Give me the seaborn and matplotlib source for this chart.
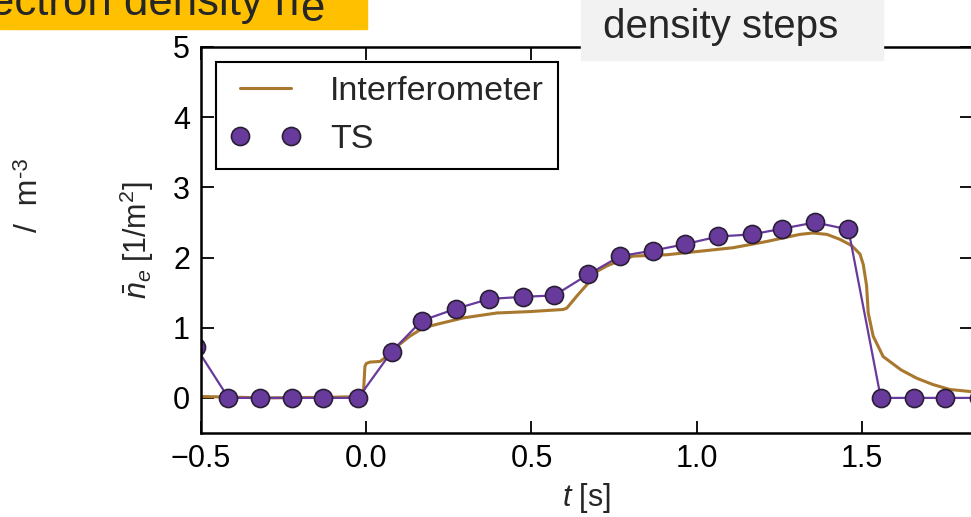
import matplotlib
matplotlib.use("Agg")
import matplotlib.pyplot as plt
import matplotlib.patches as mpatches
import numpy as np
import pandas as pd
import seaborn as sns

# Line-integrated density from the interferometer
interf_t = [-0.50, -0.30, -0.10, -0.009, -0.004, 0.000, 0.011, 0.042, 0.062, 0.092,
            0.132, 0.173, 0.223, 0.294, 0.395, 0.495, 0.596, 0.607, 0.637, 0.667,
            0.697, 0.728, 0.748, 0.807, 0.910, 1.010, 1.110, 1.213, 1.312, 1.352,
            1.394, 1.433, 1.469, 1.494, 1.504, 1.514, 1.519, 1.534, 1.564, 1.618,
            1.666, 1.715, 1.766, 1.830, 1.850]
interf_ne = [0.02, 0.00, 0.01, 0.02, 0.45, 0.49, 0.51, 0.52, 0.59, 0.73,
             0.88, 1.00, 1.06, 1.14, 1.21, 1.23, 1.26, 1.28, 1.45, 1.61,
             1.80, 1.88, 1.92, 2.02, 2.04, 2.09, 2.14, 2.23, 2.33, 2.35,
             2.33, 2.26, 2.17, 2.05, 1.90, 1.60, 1.21, 0.88, 0.59, 0.40,
             0.28, 0.19, 0.12, 0.09, 0.08]

# Thomson scattering samples
ts_t = [-0.515, -0.417, -0.321, -0.226, -0.130, -0.024, 0.077, 0.168, 0.271, 0.372,
        0.473, 0.569, 0.672, 0.768, 0.869, 0.964, 1.065, 1.168, 1.257, 1.358,
        1.459, 1.557, 1.658, 1.751, 1.853]
ts_ne = [0.72, 0.0, 0.0, 0.0, 0.0, 0.0, 0.66, 1.10, 1.27, 1.41,
         1.44, 1.46, 1.76, 2.02, 2.10, 2.19, 2.30, 2.33, 2.41, 2.50,
         2.40, 0.0, 0.0, 0.0, 0.0]

x_ticks = [-0.5, 0.0, 0.5, 1.0, 1.5]
y_ticks = [0, 1, 2, 3, 4, 5]

interf = pd.DataFrame({"t": interf_t, "ne": interf_ne})
ts = pd.DataFrame({"t": ts_t, "ne": ts_ne})

sns.set_style("ticks")
plt.rcParams["font.family"] = ["Liberation Sans", "DejaVu Sans"]
plt.rcParams["mathtext.fontset"] = "custom"
plt.rcParams["mathtext.rm"] = "Liberation Sans"
plt.rcParams["mathtext.it"] = "Liberation Sans:italic"

BROWN = "#A8782E"
PURPLE = "#683A9C"

fig = plt.figure(figsize=(9.71, 5.17), dpi=100)
ax = fig.add_axes([201 / 971, 84 / 517, 771 / 971, 386 / 517])

sns.lineplot(data=interf, x="t", y="ne", ax=ax, color=BROWN, lw=2.2,
             label="Interferometer", estimator=None, sort=False)
sns.lineplot(data=ts, x="t", y="ne", ax=ax, color=PURPLE, lw=1.6,
             estimator=None, sort=False, legend=False)
sns.lineplot(data=ts, x="t", y="ne", ax=ax, color=PURPLE, lw=0, marker="o",
             markersize=13, markeredgecolor="#2A1E35", markeredgewidth=1.2,
             label="TS", estimator=None, sort=False)

ax.set_xlim(-0.5, 1.833)
ax.set_ylim(-0.5, 5)
ax.set_xticks(x_ticks)
ax.set_yticks(y_ticks)
ax.set_xticklabels(["\u22120.5", "0.0", "0.5", "1.0", "1.5"])
ax.set_yticklabels([str(v) for v in y_ticks])
ax.tick_params(direction="in", length=9, width=1.3, labelsize=22, pad=8,
               top=True, right=True, colors="black")
for s in ax.spines.values():
    s.set_visible(True)
    s.set_linewidth(1.8)
    s.set_color("black")

ax.set_xlabel(r"$t$ [s]", fontsize=22, labelpad=5)
ax.set_ylabel(r"$\bar{n}_e\;[1/\mathrm{m}^2]$", fontsize=22, labelpad=12)

leg = ax.legend(loc="upper left", fontsize=24.5, frameon=True, fancybox=False,
                numpoints=2, handlelength=2.1, handletextpad=0.85,
                borderaxespad=0.45, borderpad=0.4, labelspacing=0.5)
leg.get_frame().set_edgecolor("black")
leg.get_frame().set_linewidth(1.5)
leg.get_frame().set_alpha(1)

# slide annotations around the plot
fig.patches.append(mpatches.Rectangle((0, 1 - 29 / 517), 367 / 971, 29 / 517,
                                      transform=fig.transFigure, color="#FFC000",
                                      zorder=5))
fig.text(299 / 971, 1 - 15 / 517, "Electron density n", fontsize=31.5,
         ha="right", va="baseline", zorder=6)
fig.text(300 / 971, 1 - 21 / 517, "e", fontsize=31.5, ha="left",
         va="baseline", zorder=6)

fig.patches.append(mpatches.Rectangle((581 / 971, 1 - 60 / 517), 302 / 971, 60 / 517,
                                      transform=fig.transFigure, color="#F2F2F2",
                                      zorder=5))
fig.text(603 / 971, 1 - 38 / 517, "density steps", fontsize=29,
         ha="left", va="baseline", zorder=6)

fig.text(37 / 971, 1 - 232 / 517, "/  m", fontsize=23, rotation=90,
         rotation_mode="anchor", ha="left", va="baseline", zorder=6)
fig.text(27 / 971, 1 - 177 / 517, "-3", fontsize=16, rotation=90,
         rotation_mode="anchor", ha="left", va="baseline", zorder=6)

fig.savefig("out.png", dpi=100)
